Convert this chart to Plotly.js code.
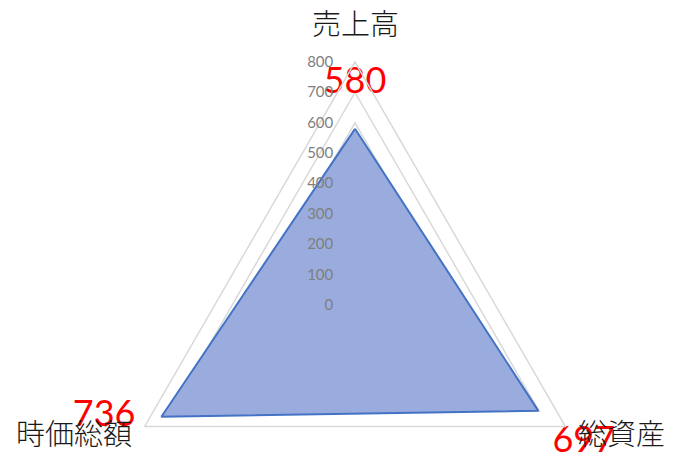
<!DOCTYPE html>
<html>
<head>
<meta charset="utf-8">
<script src="https://cdn.plot.ly/plotly-3.0.1.min.js"></script>
<style>
  html, body { margin: 0; padding: 0; background: #ffffff; }
  #marco { width: 676px; height: 465px; overflow: hidden; position: relative; }
  #grafica { width: 676px; height: 560px; }
</style>
</head>
<body>
<div id="marco"><div id="grafica"></div></div>
<script>
// Datos del grafico radar
const categorias = ['売上高', '総資産', '時価総額'];
const valores = [580, 697, 736];
const posicionEtiquetas = ['top center', 'bottom right', 'middle left'];
const ticksRadiales = [0, 100, 200, 300, 400, 500, 600, 700, 800];

// separacion de la etiqueta (marcador invisible)
const separacion = [42, 21, 40];

// cerrar el poligono
const thetaCerrado = categorias.concat([categorias[0]]);
const rCerrado = valores.concat([valores[0]]);
const textoCerrado = valores.map(v => String(v)).concat(['']);
const posCerrado = posicionEtiquetas.concat(['top center']);
const sepCerrado = separacion.concat([0]);

const trace = {
    type: 'scatterpolar',
    r: rCerrado,
    theta: thetaCerrado,
    mode: 'lines+markers+text',
    fill: 'toself',
    fillcolor: '#9aacdd',
    line: { color: '#4472c4', width: 2 },
    marker: { size: sepCerrado, color: 'rgba(0,0,0,0)', line: { width: 0, color: 'rgba(0,0,0,0)' } },
    text: textoCerrado,
    textposition: posCerrado,
    textfont: { color: '#ff0000', size: 36, family: "Lato, 'Noto Sans', sans-serif" },
    hoverinfo: 'none',
    showlegend: false
};

// etiquetas de categoria
const posCategorias = [
    { x: 355, y: 22 },
    { x: 621, y: 432 },
    { x: 74, y: 432 }
];
const annotations = categorias.map((c, i) => ({
    text: c,
    xref: 'paper', yref: 'paper',
    x: posCategorias[i].x / 676,
    y: (560 - posCategorias[i].y) / 560,
    xanchor: 'center', yanchor: 'middle',
    showarrow: false,
    font: { size: 29, weight: 300, color: '#1a1a1a', family: "'Noto Sans CJK JP', sans-serif" }
}));

const layout = {
    width: 676,
    height: 560,
    margin: { t: 0, r: 0, b: 0, l: 0 },
    paper_bgcolor: '#ffffff',
    showlegend: false,
    annotations: annotations,
    polar: {
        domain: { x: [112 / 676, 598 / 676], y: [12 / 560, 498 / 560] },
        bgcolor: 'rgba(0,0,0,0)',
        gridshape: 'linear',
        angularaxis: {
            direction: 'clockwise',
            rotation: 90,
            showgrid: false,
            showticklabels: false,
            ticks: '',
            showline: true,
            linecolor: '#d9d9d9',
            linewidth: 1.5
        },
        radialaxis: {
            range: [0, 800],
            tickvals: ticksRadiales,
            angle: 90,
            tickangle: 90,
            side: 'counterclockwise',
            showline: false,
            ticks: 'outside',
            ticklen: 16,
            tickcolor: 'rgba(0,0,0,0)',
            gridcolor: '#d9d9d9',
            gridwidth: 1.5,
            tickfont: { size: 15, color: '#7f7f7f', family: "Lato, 'Noto Sans', sans-serif" }
        }
    }
};

Plotly.newPlot('grafica', [trace], layout, { displayModeBar: false, staticPlot: true });
</script>
</body>
</html>
